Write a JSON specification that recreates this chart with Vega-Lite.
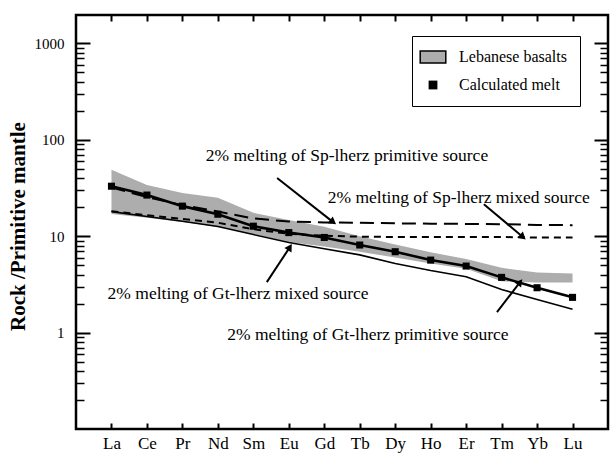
{
  "$schema": "https://vega.github.io/schema/vega-lite/v6.json",
  "width": 532,
  "height": 414,
  "autosize": {"type": "none"},
  "padding": {"left": 76, "top": 15, "right": 2, "bottom": 28},
  "background": "white",
  "config": {
    "view": {"stroke": "black", "strokeWidth": 2.5},
    "font": "Liberation Serif",
    "axis": {"labelColor": "black", "tickColor": "black", "grid": false, "domain": false, "labelOverlap": false},
    "legend": {
      "orient": "none", "legendX": 336, "legendY": 21, "title": null,
      "strokeColor": "black", "padding": 13, "labelFont": "Liberation Serif", "labelFontSize": 16, "labelColor": "black",
      "symbolSize": 256, "rowPadding": 11, "labelOffset": 18,
      "symbolType": {"expr": "datum.value === 'Lebanese basalts' ? 'M-1.6,-0.75H1.6V0.75H-1.6Z' : 'M-0.55,-0.55H0.55V0.55H-0.55Z'"},
      "symbolStrokeColor": "black",
      "symbolStrokeWidth": {"expr": "datum.value === 'Lebanese basalts' ? 1.5 : 0"},
      "symbolOpacity": 1
    }
  },
  "data": {"values": [
      {"el": 1, "name": "La", "lo": 17, "hi": 49, "melt": 33, "spp": 32, "spm": 18.2, "gtm": 18},
      {"el": 2, "name": "Ce", "lo": 15.5, "hi": 34, "melt": 26.7, "spp": 25.5, "spm": 16.5, "gtm": 16},
      {"el": 3, "name": "Pr", "lo": 14, "hi": 28, "melt": 20.5, "spp": 21, "spm": 15.1, "gtm": 14.3},
      {"el": 4, "name": "Nd", "lo": 12.5, "hi": 25, "melt": 16.9, "spp": 18, "spm": 13.8, "gtm": 12.6},
      {"el": 5, "name": "Sm", "lo": 10.5, "hi": 17.5, "melt": 12.7, "spp": 15.3, "spm": 11.8, "gtm": 10.4},
      {"el": 6, "name": "Eu", "lo": 8.7, "hi": 14.7, "melt": 10.9, "spp": 14.2, "spm": 10.6, "gtm": 8.6},
      {"el": 7, "name": "Gd", "lo": 7.8, "hi": 12.5, "melt": 9.7, "spp": 13.9, "spm": 10.1, "gtm": 7.4},
      {"el": 8, "name": "Tb", "lo": 6.9, "hi": 10, "melt": 8.1, "spp": 13.8, "spm": 9.9, "gtm": 6.4},
      {"el": 9, "name": "Dy", "lo": 6.0, "hi": 8.2, "melt": 6.9, "spp": 13.6, "spm": 9.8, "gtm": 5.2},
      {"el": 10, "name": "Ho", "lo": 5.2, "hi": 6.8, "melt": 5.65, "spp": 13.5, "spm": 9.8, "gtm": 4.4},
      {"el": 11, "name": "Er", "lo": 4.6, "hi": 5.8, "melt": 4.9, "spp": 13.4, "spm": 9.8, "gtm": 3.8},
      {"el": 12, "name": "Tm", "lo": 3.4, "hi": 4.7, "melt": 3.74, "spp": 13.3, "spm": 9.8, "gtm": 2.8},
      {"el": 13, "name": "Yb", "lo": 3.3, "hi": 4.2, "melt": 2.92, "spp": 13.1, "spm": 9.7, "gtm": 2.2},
      {"el": 14, "name": "Lu", "lo": 3.3, "hi": 4.1, "melt": 2.32, "spp": 13.0, "spm": 9.7, "gtm": 1.75}
  ]},
  "resolve": {"axis": {"x": "independent", "y": "independent"}},
  "layer": [
    {
      "mark": {"type": "area", "opacity": 1},
      "encoding": {
        "x": {"field": "el", "type": "quantitative", "scale": {"domain": [0, 15], "nice": false, "zero": false},
          "axis": {"orient": "bottom", "values": [1,2,3,4,5,6,7,8,9,10,11,12,13,14],
            "labelExpr": "['','La','Ce','Pr','Nd','Sm','Eu','Gd','Tb','Dy','Ho','Er','Tm','Yb','Lu'][datum.value]",
            "offset": -6, "tickSize": 6, "tickWidth": 2,
            "labelFont": "Liberation Serif", "labelFontSize": 17, "labelPadding": 6, "titleOpacity": 0}},
        "y": {"field": "lo", "type": "quantitative", "scale": {"type": "log", "domain": [0.1, 1970], "nice": false},
          "axis": {"orient": "left", "values": [1, 10, 100, 1000], "format": "d", "offset": -14, "tickSize": 14, "tickWidth": 2,
            "labelFont": "Liberation Serif", "labelFontSize": 15, "labelPadding": 12,
            "title": "Rock /Primitive mantle", "titleFont": "Liberation Serif", "titleColor": "black", "titleFontSize": 21, "titleFontWeight": "bold",
            "titleX": -72, "titleY": 211, "titleAngle": -90, "titleAlign": "center", "titleBaseline": "middle"}},
        "y2": {"field": "hi"},
        "color": {"datum": "Lebanese basalts", "scale": {"domain": ["Lebanese basalts", "Calculated melt"], "range": ["#adadad", "#000000"]}}
      }
    },
    {
      "mark": {"type": "line", "color": "black", "strokeWidth": 2, "strokeDash": [14, 7]},
      "encoding": {
        "x": {"field": "el", "type": "quantitative", "axis": {"orient": "top", "values": [1,2,3,4,5,6,7,8,9,10,11,12,13,14], "labels": false, "offset": -6, "tickSize": 6, "tickWidth": 2, "titleOpacity": 0}},
        "y": {"field": "spp", "type": "quantitative", "axis": {"orient": "left", "values": [0.2,0.3,0.4,0.5,0.6,0.7,0.8,0.9,2,3,4,5,6,7,8,9,20,30,40,50,60,70,80,90,200,300,400,500,600,700,800,900], "labels": false, "offset": -8, "tickSize": 8, "tickWidth": 1.5, "titleOpacity": 0}}
      }
    },
    {
      "mark": {"type": "line", "color": "black", "strokeWidth": 2, "strokeDash": [7, 5]},
      "encoding": {
        "x": {"field": "el", "type": "quantitative", "axis": null},
        "y": {"field": "spm", "type": "quantitative", "axis": {"orient": "right", "values": [1, 10, 100, 1000], "labels": false, "offset": -14, "tickSize": 14, "tickWidth": 2, "titleOpacity": 0}}
      }
    },
    {
      "mark": {"type": "line", "color": "black", "strokeWidth": 1.6},
      "encoding": {
        "x": {"field": "el", "type": "quantitative", "axis": null},
        "y": {"field": "gtm", "type": "quantitative", "axis": {"orient": "right", "values": [0.2,0.3,0.4,0.5,0.6,0.7,0.8,0.9,2,3,4,5,6,7,8,9,20,30,40,50,60,70,80,90,200,300,400,500,600,700,800,900], "labels": false, "offset": -8, "tickSize": 8, "tickWidth": 1.5, "titleOpacity": 0}}
      }
    },
    {
      "mark": {"type": "line", "color": "black", "strokeWidth": 2.6},
      "encoding": {
        "x": {"field": "el", "type": "quantitative", "axis": null},
        "y": {"field": "melt", "type": "quantitative", "axis": null}
      }
    },
    {
      "mark": {"type": "point", "shape": "square", "filled": true, "size": 50, "opacity": 1},
      "encoding": {
        "x": {"field": "el", "type": "quantitative", "axis": null},
        "y": {"field": "melt", "type": "quantitative", "axis": null},
        "color": {"datum": "Calculated melt"}
      }
    },
    {
      "data": {"values": [
        {"x": 5.67, "y": 40.1, "x2": 7.25, "y2": 14.0, "angle": 127},
        {"x": 11.5, "y": 21.5, "x2": 12.6, "y2": 9.8, "angle": 131},
        {"x": 5.38, "y": 3.34, "x2": 6.03, "y2": 7.7, "angle": 32},
        {"x": 11.87, "y": 1.63, "x2": 12.52, "y2": 3.34, "angle": 38}
      ]},
      "layer": [
        {
          "mark": {"type": "rule", "color": "black", "strokeWidth": 2},
          "encoding": {
            "x": {"field": "x", "type": "quantitative", "axis": null},
            "y": {"field": "y", "type": "quantitative", "axis": null},
            "x2": {"field": "x2"},
            "y2": {"field": "y2"}
          }
        },
        {
          "mark": {"type": "point", "shape": "triangle-up", "filled": true, "color": "black", "size": 70, "opacity": 1},
          "encoding": {
            "x": {"field": "x2", "type": "quantitative", "axis": null},
            "y": {"field": "y2", "type": "quantitative", "axis": null},
            "angle": {"field": "angle", "type": "quantitative", "scale": null}
          }
        }
      ]
    },
    {
      "data": {"values": [
        {"x": 7.64, "y": 67.8, "label": "2% melting of Sp-lherz primitive source"},
        {"x": 10.79, "y": 24.7, "label": "2% melting of Sp-lherz mixed source"},
        {"x": 4.57, "y": 2.49, "label": "2% melting of Gt-lherz mixed source"},
        {"x": 8.23, "y": 0.95, "label": "2% melting of Gt-lherz primitive source"}
      ]},
      "mark": {"type": "text", "font": "Liberation Serif", "fontSize": 17.5, "color": "black", "align": "center", "baseline": "middle"},
      "encoding": {
        "x": {"field": "x", "type": "quantitative", "axis": null},
        "y": {"field": "y", "type": "quantitative", "axis": null},
        "text": {"field": "label"}
      }
    }
  ]
}
